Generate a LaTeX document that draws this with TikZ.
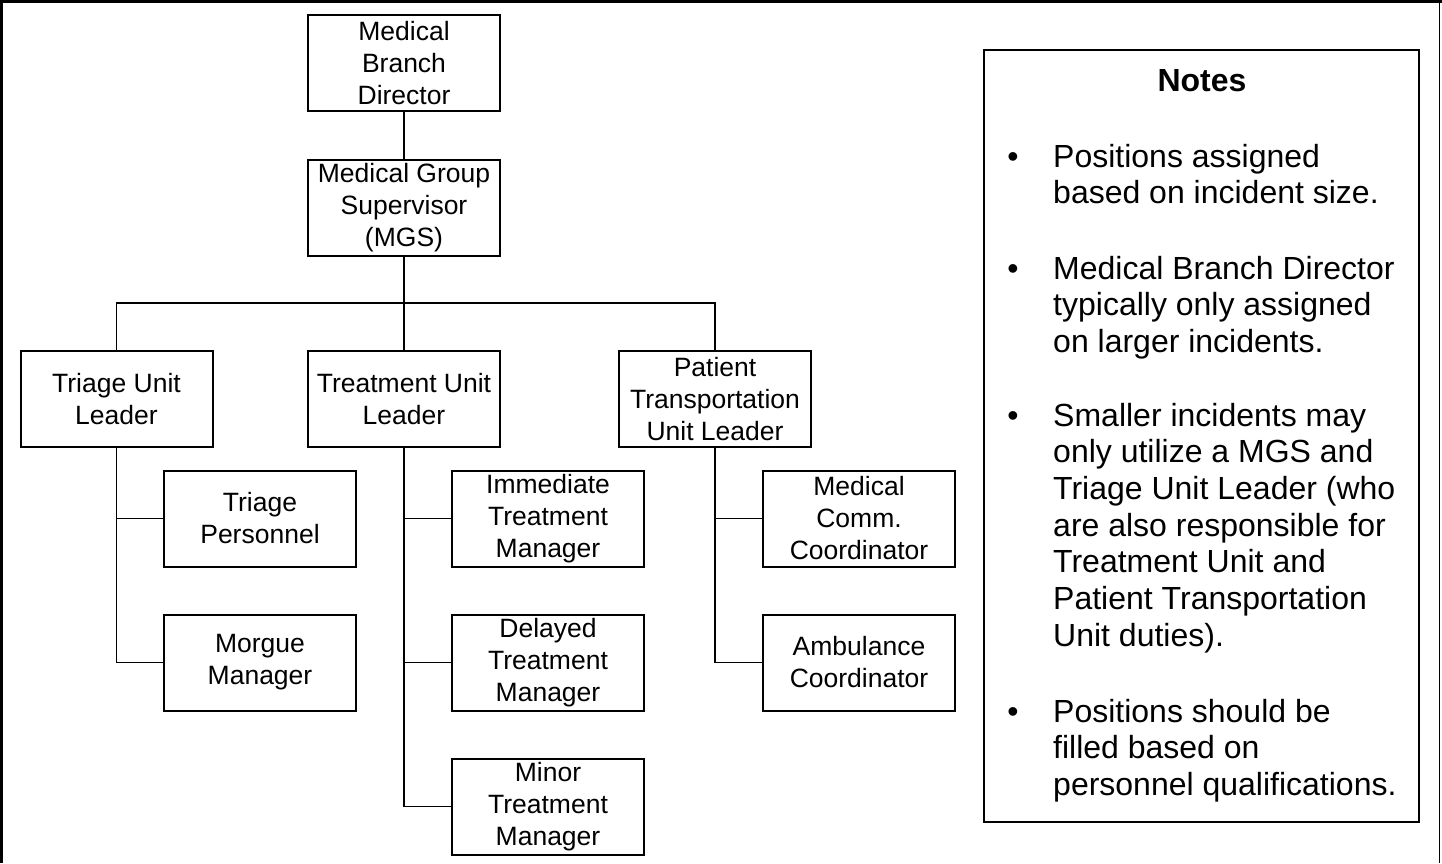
\documentclass[tikz,border=0pt]{standalone}
\usepackage{fontspec}
\setmainfont{Liberation Sans}
\begin{document}
\begin{tikzpicture}[x=1pt,y=-1pt,
  box/.style={draw,line width=2pt,minimum width=192pt,minimum height=96pt,align=center,inner sep=0pt,
    font=\fontsize{26.5}{32}\selectfont},
  conn/.style={line width=1.8pt},
  note/.style={anchor=base west,align=left,inner sep=0pt,font=\fontsize{32}{36.7}\selectfont},
  bul/.style={anchor=base,inner sep=0pt,font=\fontsize{32}{36.7}\selectfont}]
\useasboundingbox (0,0) rectangle (1442,863);
% frame
\draw[line width=3pt] (1.5,863) -- (1.5,1.5) -- (1442,1.5);
\draw[line width=1pt] (1439.5,0) -- (1439.5,863);
% boxes
\node[box] (mbd) at (404,63) {Medical\\Branch\\Director};
\node[box] (mgs) at (404,207.5) {Medical Group\\Supervisor\\(MGS)};
\node[box] (tul) at (116.5,399) {Triage Unit\\Leader};
\node[box] (trl) at (404,399) {Treatment Unit\\Leader};
\node[box] (pul) at (715,399) {Patient\\Transportation\\Unit Leader};
\node[box] (tp) at (260,518.5) {Triage\\Personnel};
\node[box] (mm) at (260,662.5) {Morgue\\Manager};
\node[box] (itm) at (548,518.5) {Immediate\\Treatment\\Manager};
\node[box] (dtm) at (548,662.5) {Delayed\\Treatment\\Manager};
\node[box] (mtm) at (548,806.5) {Minor\\Treatment\\Manager};
\node[box] (mcc) at (859,518.5) {Medical\\Comm.\\Coordinator};
\node[box] (amb) at (859,662.5) {Ambulance\\Coordinator};
% connectors
\coordinate (bus) at (404,303);
\draw[conn] (mbd) -- (mgs);
\draw[conn] (mgs.south) -- (bus);
\draw[conn] (tul.north) |- (bus) -| (pul.north);
\draw[conn] (bus) -- (trl.north);
\draw[conn] (tul.south) |- (tp.west);
\draw[conn] (tul.south) |- (mm.west);
\draw[conn] (trl.south) |- (itm.west);
\draw[conn] (trl.south) |- (dtm.west);
\draw[conn] (trl.south) |- (mtm.west);
\draw[conn] (pul.south) |- (mcc.west);
\draw[conn] (pul.south) |- (amb.west);
% notes
\draw[line width=2pt] (984,50) rectangle (1419,822);
\node[anchor=base,inner sep=0pt,font=\fontsize{32}{36.7}\selectfont\bfseries] (ntitle) at (1202,91) {Notes};
\node[bul] (b1) at (1013,167) {•};
\node[note] (n1) at (1053,203.7) {Positions assigned\\based on incident size.};
\node[bul] (b2) at (1013,279) {•};
\node[note] (n2) at (1053,352.4) {Medical Branch Director\\typically only assigned\\on larger incidents.};
\node[bul] (b3) at (1013,426) {•};
\node[note] (n3) at (1053,646.2) {Smaller incidents may\\only utilize a MGS and\\Triage Unit Leader (who\\are also responsible for\\Treatment Unit and\\Patient Transportation\\Unit duties).};
\node[bul] (b4) at (1013,722) {•};
\node[note] (n4) at (1053,795.4) {Positions should be\\filled based on\\personnel qualifications.};
\end{tikzpicture}
\end{document}
